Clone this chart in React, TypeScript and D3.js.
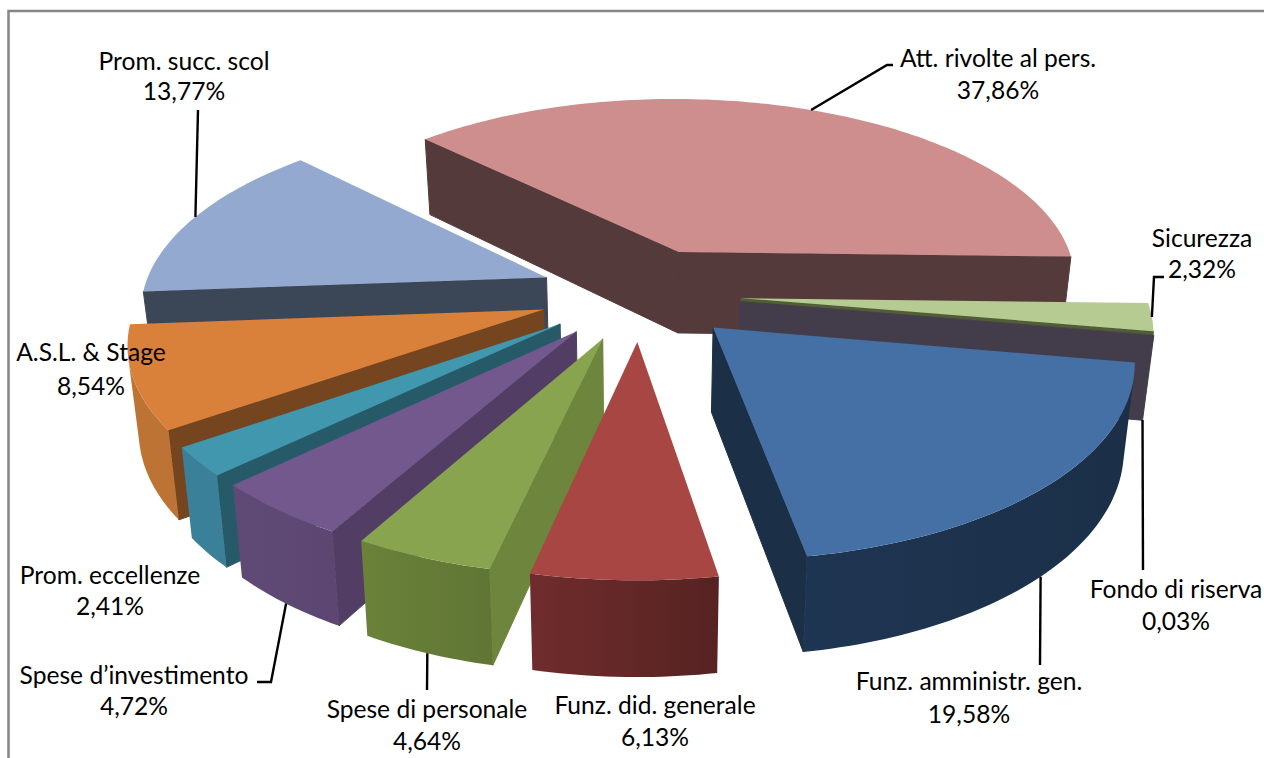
import React from "react";
import * as d3 from "d3";

const categories = [
  "Att. rivolte al pers.", "Sicurezza", "Fondo di riserva", "Funz. amministr. gen.", "Funz. did. generale",
  "Spese di personale", "Spese d’investimento", "Prom. eccellenze", "A.S.L. & Stage", "Prom. succ. scol",
];
const shares = [37.86, 2.32, 0.03, 19.58, 6.13, 4.64, 4.72, 2.41, 8.54, 13.77];
const shareLabels = ["37,86%", "2,32%", "0,03%", "19,58%", "6,13%", "4,64%", "4,72%", "2,41%", "8,54%", "13,77%"];

const topColors = ["#ce8e8d", "#b5cb91", "#4f5b3a", "#4470a5", "#a84644", "#88a44f", "#72588c", "#4197ae", "#d9813b", "#93a9cf"];
const cutColors = ["#553a3b", "#515c38", "#433d4b", "#1b2f47", "#5f2726", "#6d853c", "#523e64", "#265a69", "#75451f", "#3b4657"];
const rimStart = ["#553a3b", "#515c38", "#433d4b", "#1f3756", "#702c2c", "#6a8239", "#5f4a76", "#3a8098", "#bd7333", "#3b4657"];
const rimEnd = ["#553a3b", "#515c38", "#433d4b", "#1b2f47", "#562322", "#586b31", "#563f67", "#3a8098", "#bd7333", "#3b4657"];
const drawOrder = [0, 1, 2, 3, 9, 8, 7, 6, 5, 4];

// label layout: centre x, y of first line, y of second line
const labelX = [998, 1202, 1176, 969, 655, 427, 134, 110, 91, 184];
const labelY1 = [57, 237, 588, 680, 704, 708, 674, 574, 351, 60];
const labelY2 = [89, 268, 620, 713, 736, 740, 705, 605, 385, 90];
// leader routes, from the slice's anchor: [slice, z of the anchor, ...points]
const leaders: [number, number, [number, number][]][] = [
  [0, 0, [[887, 65], [893, 65]]],
  [1, 0, [[1154, 277], [1164, 277]]],
  [2, 1, [[1143, 570]]],
  [3, 1, [[1040, 665]]],
  [5, 1, [[427, 690]]],
  [6, 1, [[271, 682], [257, 682]]],
  [9, 0, [[198, 110]]],
];

const X0 = 640, Y0 = 293.5, SX = 404, SY = 187, SZ = 83, KY = 0.148, KZ = 0.022, EXPLODE = 0.25;
const FIRST = (-44.8 * Math.PI) / 180;

const project = (X: number, Y: number, z: number): [number, number] => {
  const d = 1 - KY * Y;
  return [X0 + ((SX * X) / d) * (1 - KZ * z), Y0 + (SY * Y) / d + (SZ * z) / Math.pow(d, 0.75)];
};

const pie = d3.pie<number>().sort(null).startAngle(FIRST).endAngle(FIRST + 2 * Math.PI);
const arcs = pie(shares);
const line = d3.line();

const geom = arcs.map((a) => {
  const mid = (a.startAngle + a.endAngle) / 2;
  const cx = EXPLODE * Math.sin(mid), cy = -EXPLODE * Math.cos(mid);
  const rim = (t: number, z: number) => project(cx + Math.sin(t), cy - Math.cos(t), z);
  const apex = (z: number) => project(cx, cy, z);
  const steps = Math.max(2, Math.ceil((a.endAngle - a.startAngle) / 0.02));
  const ts = d3.range(steps + 1).map((i) => a.startAngle + ((a.endAngle - a.startAngle) * i) / steps);
  return { a, mid, rim, apex, ts };
});

const area = (p: [number, number][]) => d3.polygonArea(p);

function Slice({ i }: { i: number }) {
  const { a, rim, apex, ts } = geom[i];
  const cutFace = (t: number): [number, number][] => [apex(0), rim(t, 0), rim(t, 1), apex(1)];
  const c0 = cutFace(a.startAngle), c1 = cutFace(a.endAngle);
  const show0 = area(c0) > 0, show1 = area(c1) < 0;
  const top: [number, number][] = [apex(0), ...ts.map((t) => rim(t, 0))];
  const segs: [number, number][][][] = [];
  let cur: [number, number][][] = [];
  for (let k = 0; k < ts.length - 1; k++) {
    const quad: [number, number][] = [rim(ts[k], 0), rim(ts[k + 1], 0), rim(ts[k + 1], 1), rim(ts[k], 1)];
    if (area(quad) > 0) cur.push(quad);
    else if (cur.length) { segs.push(cur); cur = []; }
  }
  if (cur.length) segs.push(cur);
  const walls = segs.map((qs) => [
    ...qs.map((q) => q[0]), qs[qs.length - 1][1], qs[qs.length - 1][2], ...qs.slice().reverse().map((q) => q[3]),
  ] as [number, number][]);
  const xExtent = d3.extent(top, (p) => p[0]) as [number, number];
  const gid = `rim${i}`;
  return (
    <g>
      <defs>
        <linearGradient id={gid} gradientUnits="userSpaceOnUse" x1={xExtent[0]} x2={xExtent[1]} y1={0} y2={0}>
          <stop offset="0" stopColor={rimStart[i]} />
          <stop offset="1" stopColor={rimEnd[i]} />
        </linearGradient>
      </defs>
      {show0 && <path d={line(c0)! + "Z"} fill={cutColors[i]} stroke={cutColors[i]} strokeWidth={1} />}
      {show1 && <path d={line(c1)! + "Z"} fill={cutColors[i]} stroke={cutColors[i]} strokeWidth={1} />}
      {walls.map((w, k) => (
        <path key={k} d={line(w)! + "Z"} fill={`url(#${gid})`} />
      ))}
      <path d={line(top)! + "Z"} fill={topColors[i]} />
    </g>
  );
}

export default function App() {
  return (
    <svg width={1264} height={758} style={{ position: "absolute", left: 0, top: 0, background: "#fff" }}
      fontFamily="Lato, 'Open Sans', sans-serif">
      <path d="M8.5 758V11H1264" fill="none" stroke="#868686" strokeWidth={2.5} />
      {drawOrder.map((i) => <Slice key={i} i={i} />)}
      {leaders.map(([i, z, pts]) => {
        const g = geom[i];
        const start = g.rim(g.mid, z);
        return <path key={i} d={line([start, ...pts])!} fill="none" stroke="#000" strokeWidth={2.4} />;
      })}
      {categories.map((c, i) => (
        <g key={c} textAnchor="middle" fontSize={24.6} fill="#000">
          <text x={labelX[i]} y={labelY1[i]} dominantBaseline="central">{c}</text>
          <text x={labelX[i]} y={labelY2[i]} dominantBaseline="central">{shareLabels[i]}</text>
        </g>
      ))}
    </svg>
  );
}
